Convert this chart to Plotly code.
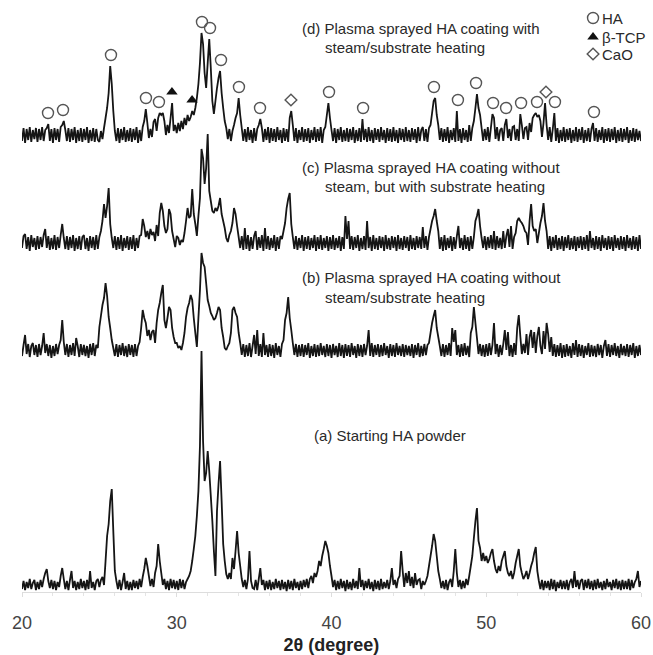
import numpy as np
import plotly.graph_objects as go

# 2-theta sampling grid (degrees), 0.1 degree step
two_theta = np.round(np.arange(200, 601) / 10, 1)

# Intensities (arbitrary units) above each pattern's own baseline, 20.0 ... 60.0 deg
# (a) Starting HA powder
int_a = [
    2, 10, 1, 9, 3, 12, 2, 8, 11, 1,
    9, 2, 11, 4, 12, 18, 22, 10, 3, 11,
    2, 10, 1, 9, 4, 15, 23, 12, 2, 10,
    1, 11, 20, 3, 10, 1, 9, 2, 12, 3,
    10, 1, 11, 2, 20, 3, 9, 1, 10, 12,
    4, 11, 14, 6, 30, 55, 67, 90, 102, 60,
    20, 10, 2, 11, 1, 9, 18, 2, 10, 1,
    9, 1, 11, 3, 10, 2, 12, 4, 14, 22,
    33, 25, 15, 5, 12, 4, 18, 25, 47, 30,
    18, 6, 12, 2, 10, 1, 12, 3, 11, 2,
    10, 1, 12, 3, 11, 2, 9, 12, 15, 20,
    30, 42, 55, 75, 100, 145, 240, 150, 110, 118,
    140, 120, 95, 70, 40, 15, 80, 107, 130, 90,
    47, 30, 17, 12, 18, 12, 33, 22, 40, 60,
    38, 25, 12, 4, 11, 2, 12, 40, 10, 3,
    2, 11, 1, 12, 23, 6, 11, 1, 10, 2,
    11, 1, 9, 2, 12, 3, 10, 1, 11, 2,
    9, 0, 11, 2, 10, 1, 12, 3, 9, 1,
    10, 2, 11, 4, 12, 3, 12, 15, 8, 18,
    14, 20, 30, 25, 35, 42, 50, 45, 38, 25,
    15, 4, 11, 1, 10, 2, 12, 3, 10, 0,
    11, 2, 9, 1, 12, 3, 10, 2, 23, 4,
    11, 1, 10, 3, 12, 2, 9, 0, 11, 2,
    10, 1, 12, 2, 9, 3, 11, 2, 10, 23,
    6, 11, 3, 12, 15, 40, 20, 4, 18, 8,
    20, 5, 14, 3, 18, 6, 11, 12, 2, 10,
    6, 10, 15, 25, 35, 45, 57, 50, 35, 20,
    12, 3, 10, 2, 11, 1, 9, 12, 4, 20,
    42, 18, 4, 11, 2, 10, 3, 12, 6, 15,
    25, 35, 53, 70, 83, 50, 43, 30, 38, 30,
    35, 28, 32, 38, 42, 30, 22, 18, 25, 20,
    30, 35, 40, 25, 18, 15, 20, 12, 18, 28,
    35, 42, 25, 18, 12, 15, 20, 12, 18, 25,
    30, 38, 44, 20, 10, 2, 11, 1, 10, 3,
    10, 1, 12, 2, 11, 0, 9, 3, 11, 2,
    10, 2, 11, 1, 9, 12, 3, 20, 4, 11,
    2, 10, 12, 1, 11, 3, 12, 2, 10, 1,
    11, 2, 12, 3, 9, 1, 10, 2, 12, 4,
    9, 1, 11, 3, 12, 2, 10, 1, 11, 2,
    10, 2, 12, 1, 11, 3, 9, 12, 20, 4,
    10,
]

# (b) Plasma sprayed, no steam / no substrate heating
int_b = [
    2, 13, 23, 4, 14, 1, 12, 15, 3, 13,
    1, 14, 3, 12, 25, 5, 14, 2, 13, 0,
    12, 2, 14, 4, 13, 18, 38, 16, 3, 14,
    1, 13, 3, 15, 2, 20, 12, 1, 14, 3,
    13, 2, 12, 0, 14, 3, 15, 2, 13, 10,
    31, 42, 53, 60, 75, 62, 41, 30, 18, 10,
    2, 14, 1, 13, 3, 15, 2, 12, 1, 14,
    3, 13, 1, 14, 2, 12, 16, 30, 48, 40,
    35, 22, 28, 18, 26, 28, 15, 35, 48, 55,
    65, 73, 38, 30, 40, 51, 48, 30, 21, 15,
    15, 10, 12, 8, 15, 25, 41, 50, 55, 63,
    58, 40, 25, 11, 40, 68, 105, 95, 91, 75,
    58, 52, 45, 42, 38, 40, 45, 51, 48, 30,
    21, 10, 8, 12, 15, 25, 48, 51, 45, 41,
    25, 15, 3, 14, 1, 13, 2, 15, 1, 12,
    23, 4, 28, 2, 14, 1, 25, 3, 13, 1,
    14, 2, 13, 0, 15, 3, 12, 1, 14, 18,
    38, 45, 61, 40, 28, 15, 3, 14, 1, 13,
    2, 14, 1, 13, 3, 15, 0, 12, 2, 14,
    1, 13, 2, 15, 3, 12, 1, 14, 2, 13,
    0, 14, 3, 12, 1, 15, 2, 13, 0, 14,
    2, 13, 1, 15, 3, 12, 0, 14, 2, 13,
    1, 14, 3, 12, 28, 2, 15, 1, 13, 3,
    14, 1, 13, 2, 15, 3, 12, 0, 14, 2,
    13, 1, 15, 3, 12, 2, 14, 1, 13, 3,
    12, 2, 14, 0, 13, 3, 15, 1, 12, 2,
    14, 3, 13, 15, 25, 35, 42, 48, 30, 21,
    12, 2, 14, 1, 13, 3, 15, 2, 30, 16,
    28, 3, 13, 1, 14, 2, 15, 3, 12, 1,
    25, 31, 51, 35, 20, 4, 14, 2, 13, 1,
    14, 2, 15, 3, 13, 35, 4, 14, 1, 13,
    3, 14, 28, 8, 26, 2, 13, 1, 15, 3,
    30, 43, 22, 4, 14, 5, 24, 3, 21, 28,
    10, 26, 5, 22, 31, 12, 4, 27, 9, 35,
    24, 6, 21, 2, 14, 1, 13, 2, 15, 0,
    13, 1, 14, 2, 12, 0, 15, 3, 18, 1,
    14, 2, 13, 0, 12, 3, 15, 1, 13, 2,
    12, 1, 14, 3, 13, 0, 12, 18, 2, 14,
    1, 13, 3, 15, 2, 12, 0, 14, 3, 12,
    2, 14, 1, 13, 3, 15, 0, 12, 2, 13,
    3,
]

# (c) Plasma sprayed, no steam, with substrate heating
int_c = [
    3, 15, 17, 2, 14, 0, 16, 4, 13, 1,
    15, 2, 14, 4, 16, 22, 3, 15, 1, 13,
    2, 16, 1, 14, 3, 16, 27, 13, 2, 15,
    1, 14, 3, 16, 0, 13, 2, 15, 1, 14,
    16, 2, 13, 0, 15, 3, 14, 1, 16, 2,
    14, 20, 30, 47, 33, 45, 63, 27, 13, 3,
    15, 1, 14, 2, 16, 0, 13, 3, 15, 1,
    14, 2, 16, 0, 13, 3, 15, 16, 32, 25,
    14, 20, 12, 22, 16, 19, 10, 26, 15, 38,
    48, 40, 25, 18, 22, 42, 37, 20, 12, 4,
    15, 13, 6, 11, 9, 18, 30, 43, 33, 35,
    62, 37, 27, 15, 35, 53, 102, 93, 67, 83,
    117, 60, 50, 40, 38, 43, 40, 45, 53, 37,
    30, 23, 13, 9, 16, 20, 28, 43, 37, 25,
    14, 3, 15, 1, 23, 2, 16, 0, 14, 2,
    15, 20, 1, 14, 3, 16, 0, 23, 2, 15,
    1, 13, 3, 16, 0, 14, 2, 15, 12, 20,
    28, 43, 52, 58, 27, 14, 2, 15, 1, 13,
    3, 16, 0, 14, 2, 15, 1, 13, 3, 16,
    0, 14, 2, 16, 1, 13, 3, 15, 0, 14,
    2, 16, 1, 13, 3, 15, 0, 14, 2, 35,
    12, 30, 2, 15, 1, 14, 3, 16, 0, 13,
    2, 15, 1, 30, 3, 14, 0, 16, 2, 13,
    1, 15, 3, 14, 0, 16, 2, 13, 1, 15,
    3, 14, 0, 16, 2, 13, 1, 15, 3, 14,
    0, 16, 2, 13, 1, 15, 3, 14, 2, 24,
    3, 15, 1, 14, 22, 30, 35, 42, 30, 20,
    2, 14, 0, 16, 1, 13, 3, 15, 0, 14,
    2, 15, 25, 3, 13, 1, 16, 2, 14, 0,
    15, 2, 14, 30, 35, 42, 25, 13, 3, 15,
    1, 14, 3, 16, 2, 20, 1, 15, 3, 13,
    2, 20, 3, 15, 22, 4, 25, 2, 14, 18,
    30, 33, 30, 28, 25, 20, 18, 6, 30, 47,
    25, 20, 22, 8, 18, 28, 35, 48, 30, 20,
    2, 15, 0, 14, 3, 16, 1, 13, 2, 15,
    0, 14, 3, 16, 1, 13, 2, 15, 0, 14,
    3, 15, 1, 14, 2, 16, 0, 20, 3, 13,
    1, 15, 2, 14, 0, 16, 3, 13, 1, 15,
    2, 14, 0, 16, 3, 13, 1, 15, 2, 14,
    0, 16, 3, 13, 1, 15, 2, 14, 0, 16,
    2,
]

# (d) Plasma sprayed, with steam / substrate heating
int_d = [
    2, 15, 0, 14, 3, 16, 1, 13, 4, 15,
    1, 14, 3, 16, 2, 13, 15, 19, 2, 14,
    0, 15, 3, 14, 1, 16, 18, 22, 13, 2,
    15, 1, 14, 3, 16, 0, 13, 2, 15, 1,
    14, 3, 16, 0, 13, 2, 15, 1, 14, 3,
    1, 12, 4, 15, 25, 35, 50, 77, 59, 32,
    12, 2, 15, 0, 14, 3, 16, 1, 13, 2,
    15, 1, 14, 3, 16, 0, 13, 2, 16, 22,
    34, 20, 5, 14, 6, 21, 24, 12, 25, 30,
    28, 30, 22, 8, 18, 10, 25, 40, 12, 18,
    10, 20, 12, 22, 14, 25, 18, 28, 22, 26,
    32, 28, 35, 45, 59, 80, 110, 99, 70, 55,
    80, 104, 75, 42, 29, 42, 55, 65, 72, 50,
    35, 22, 15, 4, 14, 2, 12, 18, 25, 30,
    45, 28, 15, 2, 14, 1, 16, 3, 13, 0,
    15, 2, 14, 18, 24, 15, 1, 14, 3, 16,
    0, 15, 2, 14, 1, 16, 3, 13, 0, 15,
    2, 14, 1, 25, 32, 18, 2, 15, 0, 13,
    3, 16, 1, 14, 2, 15, 0, 13, 3, 16,
    1, 14, 2, 16, 0, 13, 16, 28, 40, 25,
    13, 2, 15, 0, 14, 3, 16, 1, 13, 2,
    15, 1, 14, 3, 16, 0, 13, 2, 15, 1,
    24, 3, 14, 1, 16, 2, 13, 0, 15, 3,
    14, 1, 16, 3, 13, 0, 15, 2, 14, 1,
    16, 2, 13, 0, 15, 3, 14, 1, 16, 2,
    13, 1, 15, 3, 14, 0, 16, 2, 13, 16,
    2, 14, 1, 15, 18, 30, 42, 45, 28, 18,
    3, 15, 1, 14, 2, 16, 0, 13, 3, 15,
    1, 32, 2, 14, 0, 15, 3, 13, 1, 18,
    2, 15, 22, 35, 49, 35, 28, 15, 2, 14,
    3, 16, 1, 15, 29, 25, 4, 16, 2, 13,
    15, 2, 18, 24, 5, 14, 2, 16, 17, 3,
    14, 2, 29, 18, 4, 15, 16, 3, 20, 11,
    25, 28, 30, 26, 28, 22, 6, 20, 40, 18,
    3, 16, 1, 14, 30, 2, 15, 0, 13, 2,
    16, 1, 14, 3, 15, 0, 13, 2, 16, 1,
    14, 3, 16, 0, 13, 2, 15, 1, 14, 20,
    2, 15, 1, 13, 3, 16, 0, 14, 2, 15,
    1, 14, 3, 16, 0, 13, 2, 15, 1, 14,
    3, 16, 0, 13, 2, 15, 1, 14, 3, 12,
    2,
]

# Phase identification on pattern (d), 2-theta positions
ha_peaks = [21.68, 22.65, 25.75, 28.01, 28.85, 31.63, 32.15, 32.86, 34.02, 35.38,
            39.84, 42.04, 46.62, 48.17, 49.34, 50.44, 51.28, 52.25, 53.28, 54.44, 56.96]
tcp_peaks = [29.69, 30.99]
cao_peaks = [37.38, 53.86]

pattern_labels = {
    "a": ["(a) Starting HA powder"],
    "b": ["(b) Plasma sprayed HA coating without", "steam/substrate heating"],
    "c": ["(c) Plasma sprayed HA coating without", "steam, but with substrate heating"],
    "d": ["(d) Plasma sprayed HA coating with", "steam/substrate heating"],
}
x_ticks = [20, 30, 40, 50, 60]

# vertical stacking offsets of the four patterns
offsets = {"a": 1, "b": 234, "c": 341, "d": 449}
patterns = {"a": int_a, "b": int_b, "c": int_c, "d": int_d}

LINE = "#151515"
TXT = "#2a2a2a"
FONT = "Liberation Sans, Arial, sans-serif"

fig = go.Figure()
for key in ["a", "b", "c", "d"]:
    vals = np.asarray(patterns[key], dtype=float)
    fig.add_trace(go.Scatter(
        x=two_theta, y=vals + offsets[key], mode="lines",
        line=dict(color=LINE, width=1.8, simplify=False),
        hoverinfo="skip", showlegend=False,
    ))

# phase markers sit just above the local maximum of pattern (d)
d_vals = np.asarray(int_d, dtype=float)


def marker_heights(peaks, gap=11):
    out = []
    for p in peaks:
        win = np.abs(two_theta - p) <= 0.151
        out.append(offsets["d"] + d_vals[win].max() + gap)
    return out


marker_styles = [
    (ha_peaks, dict(symbol="circle-open", size=11, color="#555555", line=dict(width=1.4))),
    (tcp_peaks, dict(symbol="triangle-up", size=10, color="#111111")),
    (cao_peaks, dict(symbol="diamond-open", size=9, color="#555555", line=dict(width=1.4))),
]
for peaks, mk in marker_styles:
    fig.add_trace(go.Scatter(
        x=peaks, y=marker_heights(peaks), mode="markers", marker=mk,
        hoverinfo="skip", showlegend=False, cliponaxis=False,
    ))

# key for the phase symbols (top right)
key_items = [("HA", 0), ("β-TCP", 1), ("CaO", 2)]
key_x = 56.9
key_y = [574, 555, 538]
for (name, i), (peaks, mk) in zip(key_items, marker_styles):
    fig.add_trace(go.Scatter(
        x=[key_x], y=[key_y[i]], mode="markers", marker=mk,
        hoverinfo="skip", showlegend=False, cliponaxis=False,
    ))
    fig.add_annotation(
        x=57.35, y=key_y[i], xref="x", yref="y", text=name, showarrow=False,
        xanchor="left", yanchor="middle", font=dict(family=FONT, size=15, color=TXT),
    )

# pattern captions: first line flush, second line indented under "Plasma"
caption_pos = {
    "d": [(37.96, 564), (39.45, 545)],
    "c": [(37.96, 425), (39.45, 406)],
    "b": [(37.96, 315), (39.45, 295)],
    "a": [(38.74, 157)],
}
for key, lines in pattern_labels.items():
    for text, (x, y) in zip(lines, caption_pos[key]):
        fig.add_annotation(
            x=x, y=y, xref="x", yref="y", text=text, showarrow=False,
            xanchor="left", yanchor="middle",
            font=dict(family=FONT, size=15, color=TXT),
        )

fig.update_layout(
    width=653, height=655,
    margin=dict(l=22, r=12, t=0, b=63),
    paper_bgcolor="white", plot_bgcolor="white",
    font=dict(family=FONT, color=TXT),
    xaxis=dict(
        range=[20, 60], tickvals=x_ticks, ticktext=[str(t) for t in x_ticks],
        showgrid=False, zeroline=False,
        showline=True, linecolor="#dddddd", linewidth=1,
        ticks="outside", ticklen=4, tickcolor="#dddddd",
        minor=dict(dtick=2, ticks="outside", ticklen=3, tickcolor="#e4e4e4"),
        tickfont=dict(family=FONT, size=18, color="#444444"),
        ticklabelstandoff=10,
        title=dict(text="<b>2θ (degree)</b>", standoff=6,
                   font=dict(family=FONT, size=18, color="#222222")),
    ),
    yaxis=dict(range=[0, 592], visible=False, fixedrange=True),
)

fig.write_html("out.html")
